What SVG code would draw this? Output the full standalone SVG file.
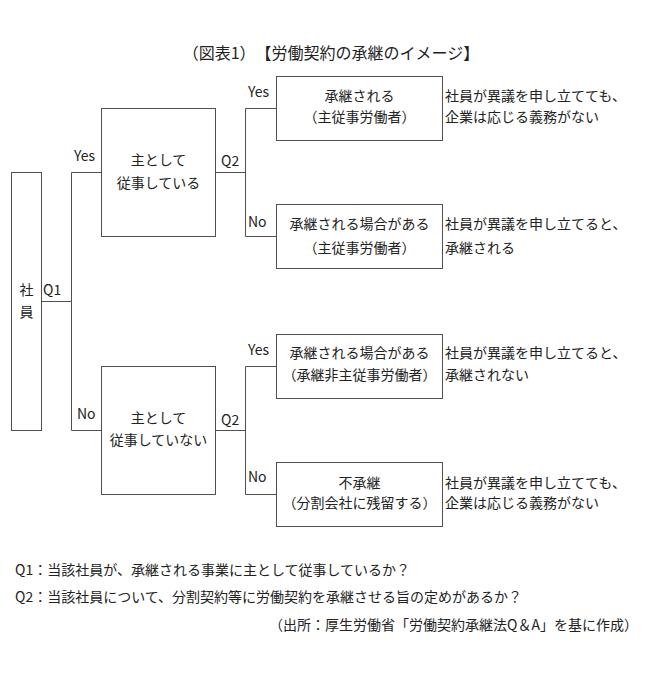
<svg xmlns="http://www.w3.org/2000/svg" width="650" height="691" viewBox="0 0 650 691">
<style>
text{font-family:"Noto Sans CJK JP","Liberation Sans",sans-serif;font-size:14px;fill:#222;text-spacing-trim:space-all}
.t{font-size:16px}
.c{text-anchor:middle}
.b{fill:#fff;stroke:#505050;stroke-width:1}
.l{fill:none;stroke:#505050;stroke-width:1}
</style>
<rect width="650" height="691" fill="#fff"/>
<text class="t c" x="331" y="59">（図表1）【労働契約の承継のイメージ】</text>
<g id="connectors">
<path class="l" d="M41.5 301.5H71.5M71.5 172.5V430.5M71.5 172.5H101.5M71.5 430.5H101.5"/>
<path class="l" d="M215.5 172.5H245.5M245.5 108.5V236.5M245.5 108.5H276.5M245.5 236.5H276.5"/>
<path class="l" d="M215.5 430.5H245.5M245.5 366.5V494.5M245.5 366.5H276.5M245.5 494.5H276.5"/>
<text x="43" y="295">Q1</text>
<text x="74" y="161">Yes</text>
<text x="77" y="419">No</text>
<text x="221" y="166">Q2</text>
<text x="221" y="425">Q2</text>
<text x="248" y="97">Yes</text>
<text x="248" y="227">No</text>
<text x="248" y="355">Yes</text>
<text x="248" y="482">No</text>
</g>
<g id="shain">
<rect class="b" x="11.5" y="172.5" width="30" height="258"/>
<text class="c" x="26.5" y="295">社</text>
<text class="c" x="26.5" y="317">員</text>
</g>
<g id="main">
<rect class="b" x="101.5" y="108.5" width="114" height="128"/>
<text class="c" x="158.5" y="165">主として</text>
<text class="c" x="158.5" y="188">従事している</text>
</g>
<g id="notmain">
<rect class="b" x="101.5" y="366.5" width="114" height="128"/>
<text class="c" x="158.5" y="423">主として</text>
<text class="c" x="158.5" y="445">従事していない</text>
</g>
<g id="r1">
<rect class="b" x="276.5" y="76.5" width="166" height="64"/>
<text class="c" x="359.5" y="101">承継される</text>
<text class="c" x="359.5" y="122">（主従事労働者）</text>
<text x="445" y="101">社員が異議を申し立てても、</text>
<text x="445" y="122">企業は応じる義務がない</text>
</g>
<g id="r2">
<rect class="b" x="276.5" y="204.5" width="166" height="64"/>
<text class="c" x="359.5" y="229">承継される場合がある</text>
<text class="c" x="359.5" y="253">（主従事労働者）</text>
<text x="445" y="229">社員が異議を申し立てると、</text>
<text x="445" y="253">承継される</text>
</g>
<g id="r3">
<rect class="b" x="276.5" y="334.5" width="166" height="64"/>
<text class="c" x="359.5" y="358">承継される場合がある</text>
<text class="c" x="359.5" y="380">（承継非主従事労働者）</text>
<text x="445" y="358">社員が異議を申し立てると、</text>
<text x="445" y="380">承継されない</text>
</g>
<g id="r4">
<rect class="b" x="276.5" y="462.5" width="166" height="64"/>
<text class="c" x="359.5" y="488">不承継</text>
<text class="c" x="359.5" y="508">（分割会社に残留する）</text>
<text x="445" y="488">社員が異議を申し立てても、</text>
<text x="445" y="508">企業は応じる義務がない</text>
</g>
<text x="15" y="575">Q1：当該社員が、承継される事業に主として従事しているか？</text>
<text x="15" y="602">Q2：当該社員について、分割契約等に労働契約を承継させる旨の定めがあるか？</text>
<text x="638" y="630" style="text-anchor:end">（出所：厚生労働省「労働契約承継法Q＆A」を基に作成）</text>
</svg>
